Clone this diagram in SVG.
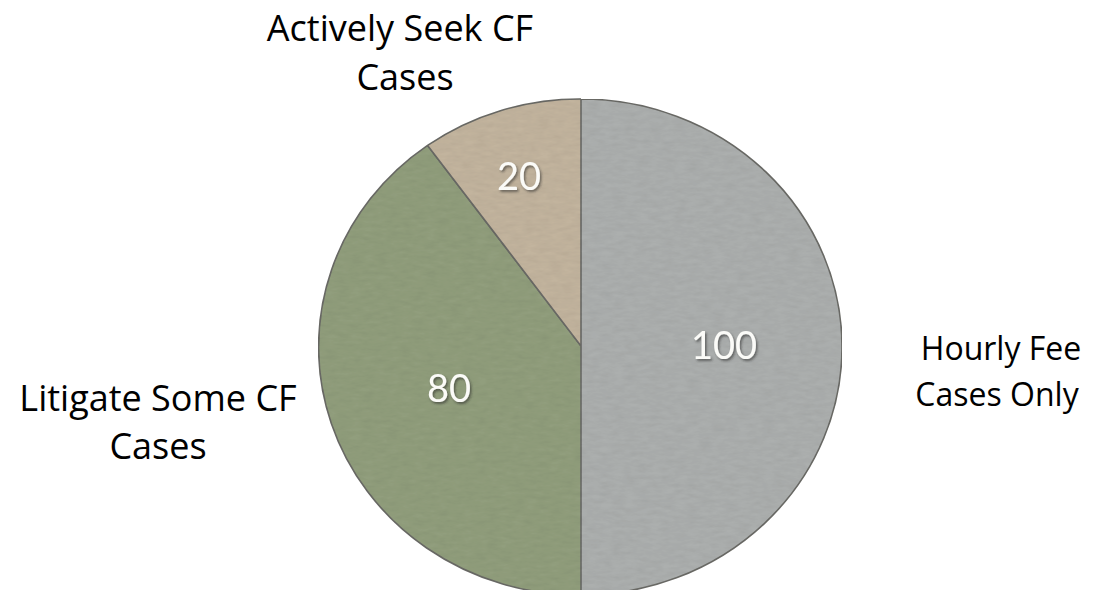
<svg xmlns="http://www.w3.org/2000/svg" width="1094" height="590" viewBox="0 0 1094 590">
<style>
.lbl{font-family:"Open Sans","Liberation Sans",sans-serif;font-size:36px;fill:#000;text-anchor:middle}
.lbl-r{font-size:32px}
.val{font-family:Lato,"Liberation Sans",sans-serif;font-size:38px;fill:#fbfbf8;text-anchor:middle;filter:url(#shadow)}
.slice{stroke:#6a6a66;stroke-width:1.6;stroke-linejoin:round;filter:url(#paper)}
</style>
<defs>
<filter id="paper" x="0" y="0" width="1" height="1">
<feTurbulence type="fractalNoise" baseFrequency="0.08 0.25" numOctaves="3" seed="4" result="n"/>
<feColorMatrix in="n" type="matrix" values="0 0 0 0 0  0 0 0 0 0  0 0 0 0 0  0 0 0 0.16 -0.04" result="na"/>
<feComposite in="na" in2="SourceGraphic" operator="in" result="tex"/>
<feMerge><feMergeNode in="SourceGraphic"/><feMergeNode in="tex"/></feMerge>
</filter>
<filter id="shadow" x="-20%" y="-20%" width="150%" height="160%">
<feDropShadow dx="1.5" dy="2" stdDeviation="1.2" flood-color="#2a2a2a" flood-opacity="0.55"/>
</filter>
</defs>
<rect width="1094" height="590" fill="#ffffff"/>
<g id="pie">
<g id="slice-hourly">
<path class="slice" fill="#acafae" d="M581,346 L581,99 A261,248 0 0 1 581,595 Z"/>
</g>
<g id="slice-litigate">
<path class="slice" fill="#919e7d" d="M581,346 L581,595 A261,248 0 0 1 427.6,145.4 Z"/>
</g>
<g id="slice-seek">
<path class="slice" fill="#c2b49e" d="M581,346 L427.6,145.4 A261,248 0 0 1 581,99 Z"/>
</g>
</g>
<g id="values">
<text class="val" x="519" y="190">20</text>
<text class="val" x="724" y="359">100</text>
<text class="val" x="449" y="402">80</text>
</g>
<g id="label-seek">
<text class="lbl" x="400" y="41">Actively Seek CF</text>
<text class="lbl" x="405" y="90">Cases</text>
</g>
<g id="label-litigate">
<text class="lbl" x="158" y="411">Litigate Some CF</text>
<text class="lbl" x="158" y="459">Cases</text>
</g>
<g id="label-hourly">
<text class="lbl lbl-r" x="1001" y="360">Hourly Fee</text>
<text class="lbl lbl-r" x="997" y="406">Cases Only</text>
</g>
<g id="connectors"></g>
</svg>
